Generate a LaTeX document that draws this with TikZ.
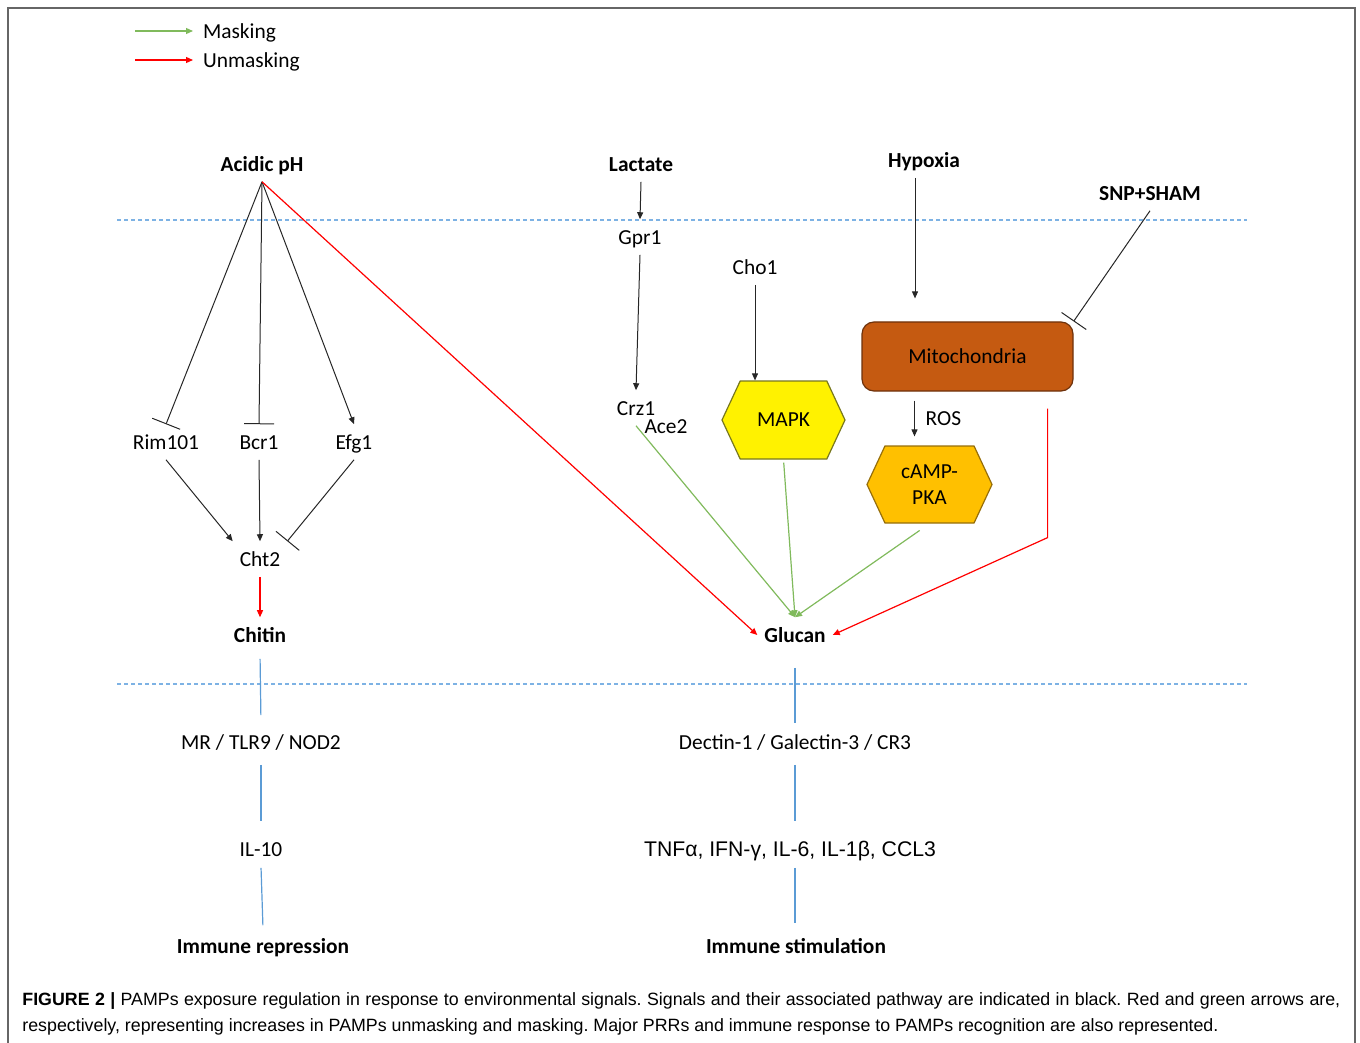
\documentclass[tikz,border=0pt]{standalone}
\usepackage{fontspec}
\setmainfont{Carlito}
\newfontfamily\capfont{Liberation Sans}
\usepackage{tikz}
\usetikzlibrary{arrows.meta, positioning, calc, shapes.symbols}

\definecolor{maskgreen}{RGB}{128,186,92}
\definecolor{unmaskred}{RGB}{255,0,0}
\definecolor{mitofill}{RGB}{197,90,17}
\definecolor{mitoline}{RGB}{110,50,12}
\definecolor{mapkline}{RGB}{120,120,30}
\definecolor{campfill}{RGB}{255,192,0}
\definecolor{campline}{RGB}{150,110,10}
\definecolor{prrblue}{RGB}{91,155,213}
\definecolor{membrane}{RGB}{125,178,228}

\begin{document}
\begin{tikzpicture}
  [
    x=0.5pt, y=-0.5pt,
    Lbl/.style={font=\fontsize{10.7}{13}\selectfont, text height=9pt, text depth=1.7pt},
    Sig/.style={font=\fontsize{10.7}{13}\selectfont\bfseries, text height=9pt, text depth=1.7pt},
    Arr/.style={-{Triangle[length=3.5pt,width=3pt]}, draw=black!85, line width=0.5pt},
    Inh/.style={-{Bar[width=15pt]}, draw=black!85, line width=0.5pt},
    Mask/.style={-{Triangle[length=3.5pt,width=3pt]}, draw=maskgreen, line width=0.6pt},
    Unmask/.style={-{Triangle[length=3.5pt,width=3pt]}, draw=unmaskred, line width=0.6pt},
    Link/.style={draw=prrblue, line width=0.6pt},
    Membrane/.style={draw=membrane, dash pattern=on 2pt off 1.5pt, line width=0.6pt},
    Hex/.style={signal, signal from=nowhere, signal to=east and west, signal pointer angle=130,
      line width=0.6pt, inner sep=0pt, align=center, font=\fontsize{10.7}{13}\selectfont}
  ]
  \useasboundingbox (0,0) rectangle (1360,1043);
  \draw[black!60, line width=0.7pt] (8,1043) -- (8,8) -- (1355,8) -- (1355,1043);
  % Legend
  \coordinate (mk) at (135,31);
  \coordinate (um) at (135,60);
  \node[Lbl, anchor=west] (mask) at (196,31) {Masking};
  \node[Lbl, anchor=west] (unmask) at (196,60) {Unmasking};
  \path[Mask, shorten >=1.5pt] (mk) -- (mask.west);
  \path[Unmask, shorten >=1.5pt] (um) -- (unmask.west);
  % Membranes
  \coordinate (m1a) at (117,220);
  \coordinate (m1b) at (1247,220);
  \coordinate (m2a) at (117,684);
  \coordinate (m2b) at (1247,684);
  \path[Membrane] (m1a) -- (m1b);
  \path[Membrane] (m2a) -- (m2b);
  % Signals
  \node[Sig] (acid) at (262,164) {Acidic pH};
  \node[Sig] (lact) at (641,164) {Lactate};
  \node[Sig] (hyp) at (924,160) {Hypoxia};
  \node[Sig] (snp) at (1150,193) {SNP+SHAM};
  % Chitin branch
  \node[Lbl] (rim) at (166,442) {Rim101};
  \node[Lbl] (bcr) at (259,442) {Bcr1};
  \node[Lbl] (efg) at (354,442) {Efg1};
  \node[Lbl] (cht) at (260,559) {Cht2};
  \node[Sig] (chitin) at (260,635) {Chitin};
  \node[Lbl] (mr) at (261,742) {MR / TLR9 / NOD2};
  \node[Lbl] (il) at (261,849) {IL-10};
  \node[Sig] (rep) at (263,946) {Immune repression};
  % Glucan branch
  \node[Lbl] (gpr) at (640,237) {Gpr1};
  \node[Lbl] (crz) at (636,408) {Crz1};
  \node[Lbl] (ace) at (666,426) {Ace2};
  \node[Lbl] (cho) at (755,267) {Cho1};
  \node[Hex, fill=yellow, draw=mapkline, minimum width=61.5pt, minimum height=39pt] (mapk) at (783.5,420) {MAPK};
  \node[draw=mitoline, fill=mitofill, line width=0.6pt, rounded corners=6pt,
    minimum width=105.5pt, minimum height=34.5pt, font=\fontsize{10.7}{13}\selectfont] (mito) at (967.5,356.5) {Mitochondria};
  \node[Hex, fill=campfill, draw=campline, minimum width=62.5pt, minimum height=38.5pt] (camp) at (929.5,484.5) {cAMP-\\PKA};
  \node[Sig] (glucan) at (795,635) {Glucan};
  \node[Lbl] (dectin) at (795,742) {Dectin-1 / Galectin-3 / CR3};
  \node[font=\capfont\fontsize{10.6}{13}\selectfont, text height=9pt, text depth=1.7pt] (cyto) at (790,849) {TNFα, IFN-γ, IL-6, IL-1β, CCL3};
  \node[Sig] (stim) at (796,946) {Immune stimulation};
  % Caption
  \node[anchor=north west, inner sep=0pt, text width=659pt, align=justify,
    font=\capfont\fontsize{8.9}{13}\selectfont\frenchspacing] (caption) at (22,992)
    {\textbf{FIGURE 2 |} PAMPs exposure regulation in response to environmental signals. Signals and their associated pathway are indicated in black. Red and green arrows are,\linebreak
    respectively, representing increases in PAMPs unmasking and masking. Major PRRs and immune response to PAMPs recognition are also represented.};
  % Lines
  \path[Inh] (acid.south) -- (rim.north);
  \path[Inh] (acid.south) -- (bcr.north);
  \path[Arr] (acid.south) -- (efg.north);
  \path[Unmask] (acid.south) -- (glucan.west);
  \path[Arr] (rim.south) -- (cht.north west);
  \path[Arr] (bcr.south) -- (cht.north);
  \path[Inh] (efg.south) -- (cht.north east);
  \path[Unmask] (cht.south) -- (chitin.north);
  \path[Link, shorten <=3pt, shorten >=4.5pt] (chitin.south) -- (mr.north);
  \path[Link, shorten <=2.5pt, shorten >=5pt] (mr.south) -- (il.north);
  \path[Link, shorten <=0.5pt, shorten >=1.5pt] (il.south) -- (rep.north);
  \path[Arr] (lact.south) -- (gpr.north);
  \path[Arr] (gpr.south) -- (crz.north);
  \path[Mask] (crz.south) -- (glucan.north);
  \path[Arr] (cho.south) -- (cho.south |- mapk.north);
  \path[Mask, shorten <=1.5pt] (mapk.south) -- (glucan.north);
  \path[Arr, shorten >=11.5pt] ([xshift=-4.5pt]hyp.south) -- ([xshift=-4.5pt]hyp.south |- mito.north);
  \path[Inh] (snp.south) -- (mito.north east);
  \path[Arr, shorten <=4.5pt, shorten >=4.5pt] ([xshift=-7.5pt]camp.north |- mito.south) -- ([xshift=-7.5pt]camp.north)
    node[Lbl, midway, right, xshift=2pt] (ros) {ROS};
  \path[Mask, shorten <=6pt] (camp.south) -- (glucan.north);
  \path[Unmask] ($(mito.south east)+(-26,17)$) -- ++(0,129) -- (glucan.east);
  \path[Link, shorten <=7.5pt, shorten >=0.5pt] (glucan.south) -- (dectin.north);
  \path[Link, shorten <=2.5pt, shorten >=5pt] (dectin.south) -- (cyto.north -| dectin.south);
  \path[Link, shorten <=0.5pt, shorten >=2.5pt] (cyto.south -| dectin.south) -- (stim.north -| dectin.south);
\end{tikzpicture}
\end{document}
